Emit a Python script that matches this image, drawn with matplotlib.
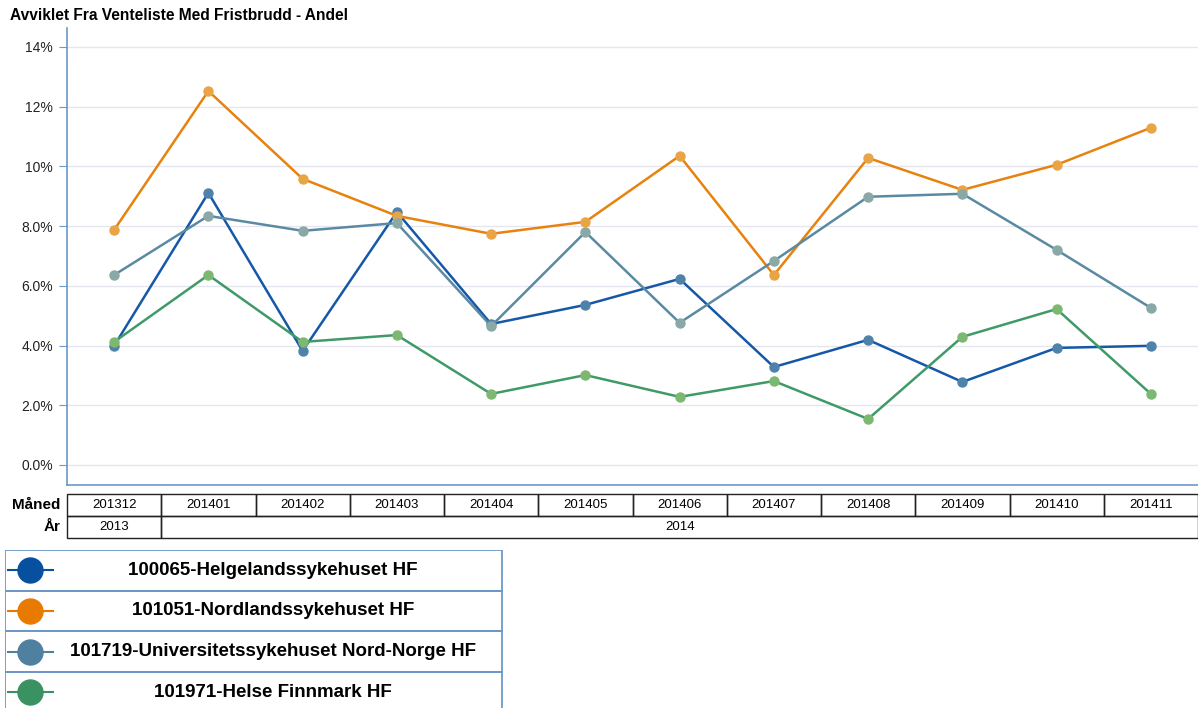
import matplotlib
matplotlib.use("Agg")
import matplotlib.pyplot as plt
from matplotlib.patches import Rectangle
from matplotlib.ticker import FixedLocator, FixedFormatter

plt.rcParams["font.family"] = ["Liberation Sans", "DejaVu Sans"]

# ------------------------------------------------------------
# Data (andel i prosent)
# ------------------------------------------------------------
maaneder = ["201312", "201401", "201402", "201403", "201404", "201405",
            "201406", "201407", "201408", "201409", "201410", "201411"]
aar = ["2013", "2014"]
aar_antall = [1, 11]

helgeland = [3.99, 9.11, 3.82, 8.47, 4.72, 5.36, 6.23, 3.28, 4.19, 2.78, 3.92, 3.99]
nordland = [7.87, 12.52, 9.58, 8.34, 7.74, 8.14, 10.35, 6.36, 10.28, 9.21, 10.05, 11.29]
unn = [6.36, 8.34, 7.84, 8.10, 4.65, 7.80, 4.76, 6.83, 8.98, 9.08, 7.20, 5.26]
finnmark = [4.12, 6.36, 4.12, 4.35, 2.38, 3.01, 2.28, 2.81, 1.54, 4.29, 5.22, 2.38]

serie_navn = ["100065-Helgelandssykehuset HF",
              "101051-Nordlandssykehuset HF",
              "101719-Universitetssykehuset Nord-Norge HF",
              "101971-Helse Finnmark HF"]

y_ticks = [0, 2, 4, 6, 8, 10, 12, 14]
y_tick_labels = ["0.0%", "2.0%", "4.0%", "6.0%", "8.0%", "10%", "12%", "14%"]

# ------------------------------------------------------------
# Stil
# ------------------------------------------------------------
linjefarger = ["#1558a8", "#e8820f", "#5a8aa2", "#3f9a68"]
markorfarger = ["#4f82ab", "#e9a545", "#8aa8a6", "#7cb870"]
legendfarger = ["#0750a0", "#e87a00", "#4f80a0", "#3a9262"]
akse_blaa = "#6b98c8"

W, H = 1198, 708
fig = plt.figure(figsize=(W / 100, H / 100), dpi=100)


def px_axes(x0, y0, x1, y1):
    return fig.add_axes([x0 / W, 1 - y1 / H, (x1 - x0) / W, (y1 - y0) / H])


# ------------------------------------------------------------
# Linjediagram
# ------------------------------------------------------------
ax = px_axes(67, 28, 1198, 485)
x = list(range(len(maaneder)))
for verdier, lf, mf in zip([helgeland, nordland, unn, finnmark], linjefarger, markorfarger):
    ax.plot(x, verdier, color=lf, lw=1.8, marker="o", ms=6.5,
            markerfacecolor=mf, markeredgecolor=mf, zorder=3)

ax.set_xlim(-0.5, len(maaneder) - 0.5)
ax.set_ylim(-0.67, 14.63)
ax.yaxis.set_major_locator(FixedLocator(y_ticks))
ax.yaxis.set_major_formatter(FixedFormatter(y_tick_labels))
ax.set_xticks([])
ax.grid(axis="y", color="#e6e6f0", lw=1)
ax.set_axisbelow(True)
for s in ["top", "right"]:
    ax.spines[s].set_visible(False)
ax.spines["left"].set_color(akse_blaa)
ax.spines["bottom"].set_color(akse_blaa)
ax.spines["left"].set_linewidth(1.2)
ax.spines["bottom"].set_linewidth(1.2)
ax.tick_params(axis="y", direction="out", length=6, color=akse_blaa,
               labelsize=10, labelcolor="#222222", pad=4)

fig.text(10 / W, 1 - 15 / H, "Avviklet Fra Venteliste Med Fristbrudd - Andel",
         fontsize=11.2, fontweight="bold", va="center", ha="left")

# ------------------------------------------------------------
# Tabell med måned og år
# ------------------------------------------------------------
tab = px_axes(67, 494, 1198, 538)
tab.set_xlim(-0.5, len(maaneder) - 0.5)
tab.set_ylim(2, 0)
tab.axis("off")
for i, m in enumerate(maaneder):
    tab.add_patch(Rectangle((i - 0.5, 0), 1, 1, fill=False, ec="#222222", lw=1, clip_on=False))
    tab.text(i, 0.5, m, ha="center", va="center", fontsize=9.5)
start = 0
for a, n in zip(aar, aar_antall):
    tab.add_patch(Rectangle((start - 0.5, 1), n, 1, fill=False, ec="#222222", lw=1, clip_on=False))
    tab.text(start - 0.5 + n / 2, 1.5, a, ha="center", va="center", fontsize=9.5)
    start += n
fig.text(60 / W, 1 - 505 / H, "Måned", ha="right", va="center", fontsize=11, fontweight="bold")
fig.text(60 / W, 1 - 527 / H, "År", ha="right", va="center", fontsize=11, fontweight="bold")

# ------------------------------------------------------------
# Legende
# ------------------------------------------------------------
leg = px_axes(5, 550, 503, 708)
leg.set_xlim(0, 498)
leg.set_ylim(158, 0)
leg.axis("off")
rad = 40.6
for k, (navn, farge) in enumerate(zip(serie_navn, legendfarger)):
    y0 = k * rad
    leg.add_patch(Rectangle((0, y0), 497, rad, fill=False, ec=akse_blaa, lw=1.3))
    yc = y0 + rad / 2
    leg.plot([3, 48], [yc, yc], color=farge, lw=1.5)
    leg.plot([25], [yc], marker="o", ms=18, color=farge)
    leg.text(268, yc, navn, ha="center", va="center", fontsize=13.5, fontweight="bold")

fig.savefig("out.png", dpi=100)
